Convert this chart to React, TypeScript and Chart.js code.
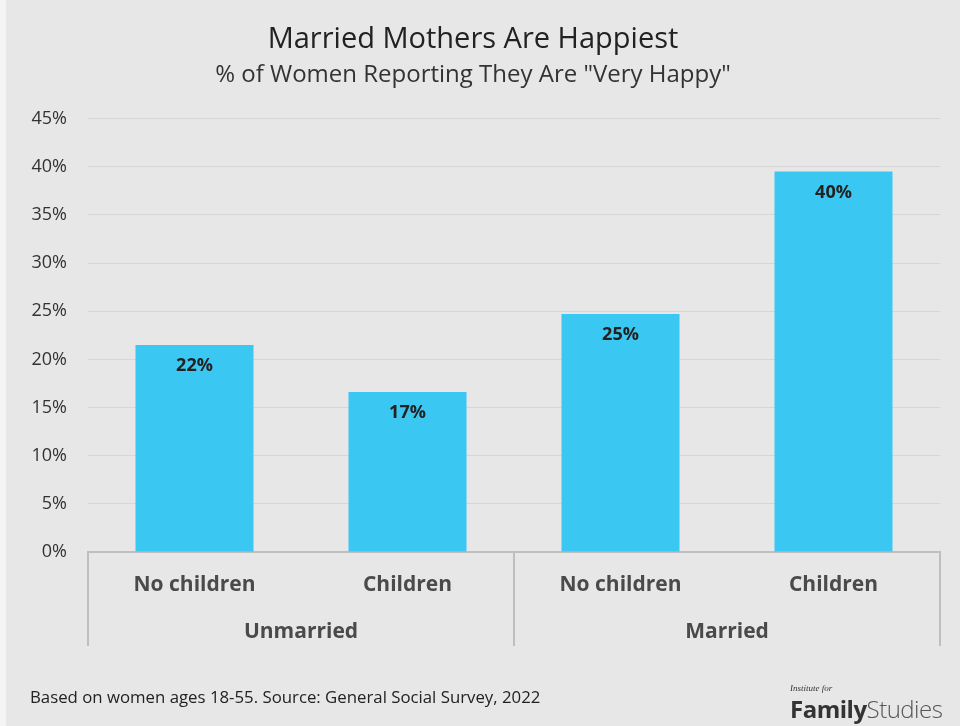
import React, { useEffect, useRef } from "react";
import { Chart, registerables } from "chart.js";

Chart.register(...registerables);

const categories = ["No children", "Children", "No children", "Children"];
const groups = ["Unmarried", "Married"];
const values = [21.5, 16.6, 24.7, 39.5];
const valueLabels = ["22%", "17%", "25%", "40%"];
const yTicks = [0, 5, 10, 15, 20, 25, 30, 35, 40, 45];

const FONT = "'Open Sans', sans-serif";

const groupPlugin = {
  id: "groupAxis",
  afterDraw(chart: any) {
    const ctx = chart.ctx;
    const x = chart.scales.x;
    const area = chart.chartArea;
    ctx.save();
    // separator lines
    ctx.strokeStyle = "#bfbfbf";
    ctx.lineWidth = 2;
    const bounds = [-0.5, 1.5, 3.5];
    bounds.forEach((b) => {
      const px = Math.round(x.getPixelForValue(b));
      ctx.beginPath();
      ctx.moveTo(px, area.bottom);
      ctx.lineTo(px, area.bottom + 94);
      ctx.stroke();
    });
    // group labels
    ctx.fillStyle = "#4a4a4a";
    ctx.font = `bold 21px ${FONT}`;
    ctx.textAlign = "center";
    ctx.textBaseline = "middle";
    groups.forEach((g, i) => {
      const px = x.getPixelForValue(i * 2 + 0.5);
      ctx.fillText(g, px, area.bottom + 80);
    });
    // value labels
    const meta = chart.getDatasetMeta(0);
    ctx.fillStyle = "#222222";
    ctx.font = `bold 18px ${FONT}`;
    meta.data.forEach((bar: any, i: number) => {
      ctx.fillText(valueLabels[i], bar.x, bar.y + 21);
    });
    ctx.restore();
  },
};

export default function App() {
  const ref = useRef<HTMLCanvasElement | null>(null);
  useEffect(() => {
    if (!ref.current) return;
    const chart = new Chart(ref.current, {
      type: "bar",
      data: {
        labels: categories,
        datasets: [
          {
            data: values,
            backgroundColor: "#3ac8f3",
            borderWidth: 0,
            categoryPercentage: 1,
            barPercentage: 0.554,
          },
        ],
      },
      options: {
        animation: false,
        responsive: false,
        maintainAspectRatio: false,
        layout: { padding: { left: 0, right: 20, top: 0, bottom: 74 } },
        plugins: {
          legend: { display: false },
          tooltip: { enabled: false },
          title: {
            display: true,
            text: "Married Mothers Are Happiest",
            color: "#222222",
            font: { family: FONT, size: 29, weight: "normal" },
            padding: { top: 22, bottom: 0 },
          },
          subtitle: {
            display: true,
            text: '% of Women Reporting They Are "Very Happy"',
            color: "#333333",
            font: { family: FONT, size: 24, weight: "normal" },
            padding: { top: 4, bottom: 29 },
          },
        },
        scales: {
          x: {
            grid: { display: false, drawTicks: false },
            border: { display: true, color: "#bfbfbf", width: 2 },
            ticks: {
              color: "#4a4a4a",
              font: { family: FONT, size: 21, weight: "bold" },
              padding: 20,
              maxRotation: 0,
            },
            afterFit: (s: any) => {
              s.height = 100;
            },
          },
          y: {
            min: 0,
            max: 45,
            afterBuildTicks: (s: any) => {
              s.ticks = yTicks.map((v) => ({ value: v }));
            },
            grid: { color: "#d6d6d6", lineWidth: 1, drawTicks: false },
            border: { display: false },
            ticks: {
              color: "#333333",
              font: { family: FONT, size: 18 },
              padding: 21,
              callback: (v: any) => `${v}%`,
            },
            afterFit: (s: any) => {
              s.width = 82;
            },
          },
        },
      },
      plugins: [groupPlugin],
    });
    return () => chart.destroy();
  }, []);

  return (
    <div style={{ position: "fixed", left: 0, top: 0, width: 960, height: 726, background: "#f4f4f4" }}>
      <div style={{ position: "absolute", left: 6, top: 0, width: 954, height: 726, background: "#e7e7e7" }}>
        <canvas ref={ref} width={954} height={726} style={{ display: "block" }} />
        <div
          style={{
            position: "absolute",
            left: 24,
            top: 685,
            fontFamily: FONT,
            fontSize: 16.8,
            color: "#222",
            whiteSpace: "nowrap",
          }}
        >
          Based on women ages 18-55. Source: General Social Survey, 2022
        </div>
        <div style={{ position: "absolute", left: 784, top: 683, fontFamily: "'Liberation Serif', serif", fontStyle: "italic", fontSize: 9, color: "#333" }}>
          Institute for
        </div>
        <div style={{ position: "absolute", left: 784, top: 692, fontFamily: FONT, fontSize: 24, color: "#333", whiteSpace: "nowrap", letterSpacing: -0.5 }}>
          <span style={{ fontWeight: 700 }}>Family</span>
          <span style={{ fontWeight: 300, color: "#555" }}>Studies</span>
        </div>
      </div>
    </div>
  );
}
